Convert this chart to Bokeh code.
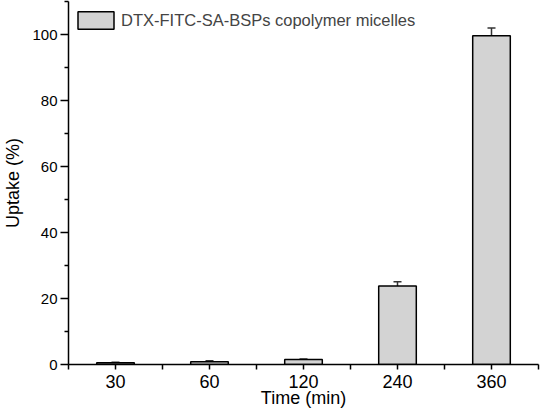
from bokeh.plotting import figure
from bokeh.models import ColumnDataSource, Whisker, TeeHead, FixedTicker, Range1d, Legend
from bokeh.embed import file_html
from bokeh.resources import INLINE
import numpy as np

categories = ["30", "60", "120", "240", "360"]
uptake = [0.5, 0.8, 1.5, 23.8, 99.6]
error = [0.2, 0.3, 0.2, 1.25, 2.4]
y_ticks = [0, 20, 40, 60, 80, 100]
y_minor = [10, 30, 50, 70, 90, 110]
legend_text = "DTX-FITC-SA-BSPs copolymer micelles"

xpos = np.arange(len(categories))
src = ColumnDataSource(dict(
    x=xpos, top=uptake,
    upper=[u + e for u, e in zip(uptake, error)],
    lower=[u - e for u, e in zip(uptake, error)],
))

FONT = "Liberation Sans"

p = figure(width=540, height=410, output_backend="svg", toolbar_location=None,
           x_range=Range1d(-0.5, len(categories) - 0.5), y_range=Range1d(0, 110),
           min_border_left=59, min_border_right=2, min_border_top=1, min_border_bottom=40)
p.outline_line_color = None
p.xgrid.visible = False
p.ygrid.visible = False
p.background_fill_color = "white"

r = p.vbar(x="x", top="top", width=0.4, source=src, fill_color="#d3d3d3",
           line_color="black", line_width=1.5)

w = Whisker(source=src, base="x", upper="upper", lower="lower",
            line_color="#333333", line_width=1.5,
            upper_head=TeeHead(size=8, line_color="#333333", line_width=1.5),
            lower_head=TeeHead(size=8, line_color="#333333", line_width=1.5))
p.add_layout(w)

# x axis
p.xaxis.ticker = FixedTicker(ticks=list(xpos), minor_ticks=list(np.arange(len(categories) + 1) - 0.5))
p.xaxis.major_label_overrides = {int(i): c for i, c in zip(xpos, categories)}
p.xaxis.axis_label = "Time (min)"
p.xaxis.major_tick_in = 0
p.xaxis.major_tick_out = 5
p.xaxis.minor_tick_in = 0
p.xaxis.minor_tick_out = 5
p.xaxis.major_label_standoff = 5
p.xaxis.axis_label_standoff = -3
p.xaxis.major_label_text_font_size = "18px"

# y axis
p.yaxis.ticker = FixedTicker(ticks=y_ticks, minor_ticks=y_minor)
p.yaxis.axis_label = "Uptake (%)"
p.yaxis.major_tick_in = 0
p.yaxis.major_tick_out = 8
p.yaxis.minor_tick_in = 0
p.yaxis.minor_tick_out = 4
p.yaxis.major_label_standoff = 3
p.yaxis.axis_label_standoff = 6
p.yaxis.major_label_text_font_size = "15px"

for ax in (p.xaxis, p.yaxis):
    ax.axis_line_width = 1.5
    ax.axis_line_color = "black"
    ax.major_tick_line_width = 1.5
    ax.minor_tick_line_width = 1.5
    ax.major_tick_line_color = "black"
    ax.minor_tick_line_color = "black"
    ax.major_label_text_font = FONT
    ax.major_label_text_color = "black"
    ax.axis_label_text_font = FONT
    ax.axis_label_text_font_size = "18px"
    ax.axis_label_text_font_style = "normal"
    ax.axis_label_text_color = "black"

legend = Legend(items=[(legend_text, [r])], location=(5, 333),
                border_line_color=None, background_fill_alpha=0,
                glyph_width=45, glyph_height=22, label_standoff=3,
                label_text_font=FONT, label_text_font_size="16.5px",
                padding=1, margin=0, label_height=22)
p.add_layout(legend)

open("out.html", "w").write(file_html(p, INLINE))
